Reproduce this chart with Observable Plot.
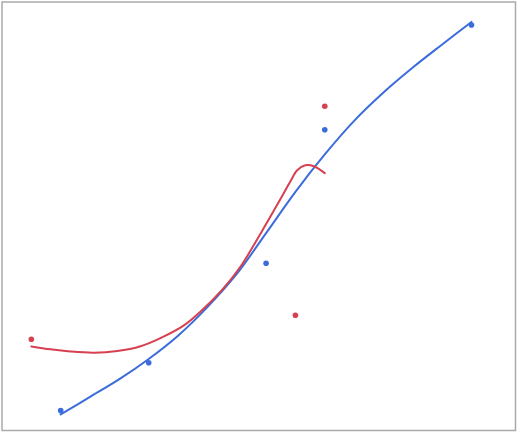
<!DOCTYPE html>
<html>
<head>
<meta charset="utf-8">
<script src="https://cdn.jsdelivr.net/npm/d3@7"></script>
<script src="https://cdn.jsdelivr.net/npm/@observablehq/plot@0.6"></script>
<style>
  html, body { margin: 0; padding: 0; background: #fff; }
  #chart svg { display: block; }
</style>
</head>
<body>
<div id="chart"></div>
<script>
// Series 1 (blue) points
const blueX = [2, 5, 9, 11, 16];
const blueY = [0.83, 2.82, 6.97, 12.53, 16.89];
// Series 2 (red) points
const redX = [1, 10, 11];
const redY = [3.80, 4.80, 13.51];

// Trendlines
const blueTrendX = [2, 3, 4, 5, 6, 7, 8, 9, 10, 11, 12, 13, 14, 15, 16];
const blueTrendY = [0.67, 1.40, 2.14, 2.98, 3.95, 5.14, 6.52, 8.22, 9.94, 11.50, 12.90, 14.08, 15.12, 16.08, 17.02];
const redTrendX = [1, 1.65, 2.33, 3.13, 3.93, 4.72, 5.40, 6.20, 6.76, 7.50, 8.13, 8.81, 9.49, 9.83, 10.06, 10.34, 10.63, 11];
const redTrendY = [3.50, 3.38, 3.29, 3.24, 3.31, 3.51, 3.85, 4.38, 4.95, 5.86, 6.83, 8.20, 9.64, 10.38, 10.84, 11.05, 11.01, 10.72];

const BLUE = "#3a6cdb";
const RED = "#d64050";

const zip = (xs, ys) => xs.map((x, i) => ({x, y: ys[i]}));
const bluePts = zip(blueX, blueY);
const redPts = zip(redX, redY);
const blueTrend = zip(blueTrendX, blueTrendY);
const redTrend = zip(redTrendX, redTrendY);

const chart = Plot.plot({
  width: 517,
  height: 432,
  marginLeft: 1.5,
  marginRight: 2,
  marginTop: 1.5,
  marginBottom: 2,
  x: {domain: [0, 17.5], axis: null},
  y: {domain: [0, 17.85], axis: null},
  marks: [
    Plot.frame({stroke: "#aaaaaa", strokeWidth: 1.5}),
    Plot.line(blueTrend, {x: "x", y: "y", stroke: BLUE, strokeWidth: 2, curve: "catmull-rom"}),
    Plot.line(redTrend, {x: "x", y: "y", stroke: RED, strokeWidth: 2, curve: "catmull-rom"}),
    Plot.dot(bluePts, {x: "x", y: "y", r: 2.8, fill: BLUE, stroke: "none"}),
    Plot.dot(redPts, {x: "x", y: "y", r: 2.8, fill: RED, stroke: "none"})
  ]
});
document.getElementById("chart").appendChild(chart);
</script>
</body>
</html>
